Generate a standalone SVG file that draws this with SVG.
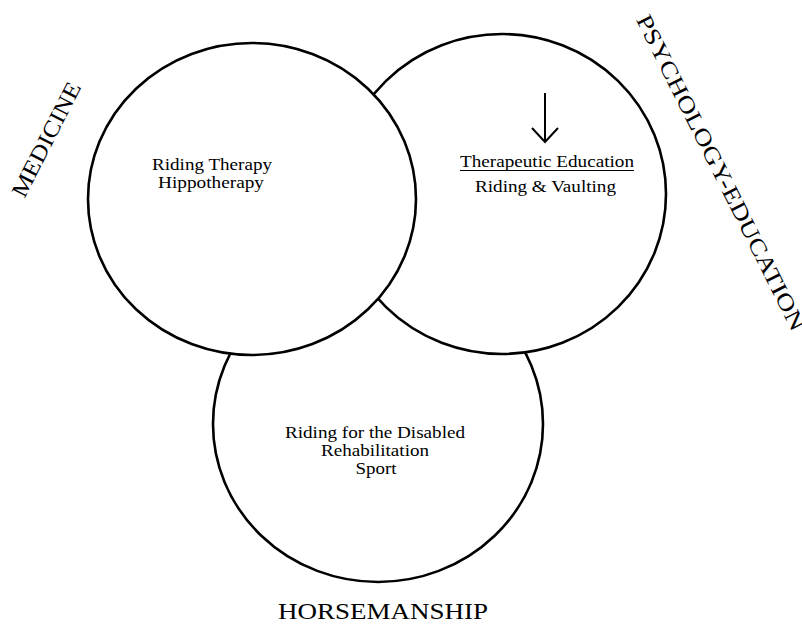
<svg xmlns="http://www.w3.org/2000/svg" width="802" height="624" viewBox="0 0 802 624">
<style>
.c{fill:#fff;stroke:#000;stroke-width:2.6}
.t{font-family:"Liberation Serif","Times New Roman",serif;font-size:17px;fill:#000;text-anchor:middle}
.l{font-family:"Liberation Serif","Times New Roman",serif;font-size:23px;fill:#000;text-anchor:middle}
</style>
<rect width="802" height="624" fill="#fff"/>
<g id="horsemanship-circle">
<ellipse class="c" cx="378" cy="424" rx="165" ry="158"/>
<text class="t" x="375" y="438" textLength="180" lengthAdjust="spacingAndGlyphs">Riding for the Disabled</text>
<text class="t" x="375" y="456" textLength="108" lengthAdjust="spacingAndGlyphs">Rehabilitation</text>
<text class="t" x="376" y="474" textLength="41" lengthAdjust="spacingAndGlyphs">Sport</text>
</g>
<g id="psychology-circle">
<ellipse class="c" cx="502" cy="194" rx="164" ry="160"/>
<text class="t" x="547" y="167" textLength="174" lengthAdjust="spacingAndGlyphs">Therapeutic Education</text>
<line x1="460" y1="170.5" x2="634" y2="170.5" stroke="#000" stroke-width="1"/>
<text class="t" x="545.5" y="192" textLength="141" lengthAdjust="spacingAndGlyphs">Riding &amp; Vaulting</text>
</g>
<g id="medicine-circle">
<ellipse class="c" cx="252" cy="199" rx="164" ry="156"/>
<text class="t" x="212" y="170" textLength="120" lengthAdjust="spacingAndGlyphs">Riding Therapy</text>
<text class="t" x="211" y="188" textLength="106" lengthAdjust="spacingAndGlyphs">Hippotherapy</text>
</g>
<g id="connectors">
<path d="M545 93 V141.5 M532 128 L545 142 L558 128" fill="none" stroke="#000" stroke-width="2"/>
</g>
<g id="labels">
<text class="l" transform="translate(53,143) rotate(-63)" x="0" y="0" textLength="126" lengthAdjust="spacingAndGlyphs">MEDICINE</text>
<text class="l" transform="translate(714,176) rotate(63.4)" x="0" y="0" textLength="350" lengthAdjust="spacingAndGlyphs">PSYCHOLOGY-EDUCATION</text>
<text class="l" x="383" y="619" textLength="210" lengthAdjust="spacingAndGlyphs">HORSEMANSHIP</text>
</g>
</svg>
